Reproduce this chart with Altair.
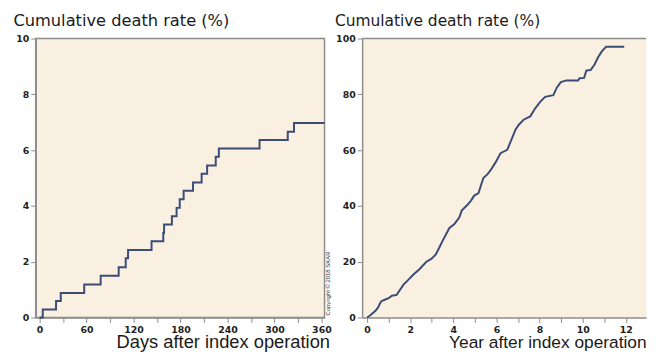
import altair as alt
import pandas as pd

# ---- data ----
days = [0, 4, 21, 27, 57, 78, 101, 110, 113, 143, 158, 159, 169, 175, 179, 184,
        196, 207, 214, 225, 229, 281, 317, 325, 364]
rate_days = [0, 0.29, 0.59, 0.88, 1.18, 1.5, 1.8, 2.12, 2.42, 2.73, 3.03, 3.33,
             3.63, 3.93, 4.24, 4.54, 4.84, 5.15, 5.45, 5.76, 6.06, 6.36, 6.66,
             6.97, 6.97]

years = [0, 0.15, 0.39, 0.51, 0.64, 0.76, 1.0, 1.15, 1.37, 1.5,
         1.68, 1.91, 2.14, 2.44, 2.75, 2.98, 3.18, 3.34, 3.49, 3.67,
         3.82, 4.05, 4.28, 4.39, 4.67, 4.82, 4.97, 5.17, 5.28, 5.4,
         5.58, 5.73, 5.96, 6.19, 6.5, 6.65, 6.89, 7.04, 7.26, 7.57,
         7.8, 8.03, 8.26, 8.64, 8.8, 8.99, 9.25, 9.79, 9.86, 10.07,
         10.17, 10.37, 10.56, 10.71, 10.88, 11.09, 11.93]
rate_years = [0, 0.8, 2.4, 3.6, 5.7, 6.2, 6.9, 7.8, 8.1, 9.6,
              11.7, 13.5, 15.3, 17.4, 20, 21, 22.5, 24.9, 27.3, 29.9,
              32.1, 33.5, 35.9, 38.3, 40.5, 41.9, 43.7, 44.6, 47.3, 50.1,
              51.3, 52.8, 55.6, 58.9, 60.1, 62.9, 67.4, 69.1, 70.9, 72.1,
              75, 77.3, 79.1, 79.7, 82.4, 84.4, 85, 85, 85.8, 85.9,
              88.5, 88.7, 90.8, 93.2, 95.3, 97.1, 97.1]

left_ticks = list(range(0, 361, 30))
right_ticks = list(range(0, 13))
left_yticks = [0, 2, 4, 6, 8, 10]
right_yticks = [0, 20, 40, 60, 80, 100]
y_title = "Cumulative death rate (%)"
left_xtitle = "Days after index operation"
right_xtitle = "Year after index operation"
copyright_text = ["Copyright \u00a9 2018 SKAR"]

left_df = pd.DataFrame({"day": days, "rate": rate_days})
right_df = pd.DataFrame({"year": years, "rate": rate_years})

LINE = "#3b4c77"
BG = "#faf0e1"
GRAY = "#8c8c8c"
FONT = "Liberation Sans"
WIDE = "DejaVu Sans"

LW, RW, H = 292, 287, 282


def common_axis(**kw):
    base = dict(grid=False, domainColor=GRAY, domainWidth=1.5, tickColor=GRAY,
                tickWidth=1, tickSize=5, labelFont=WIDE, labelFontSize=9.5,
                labelFontWeight="bold", labelColor="#1e1e1e", labelOverlap=False,
                labelFlush=False, titleFontWeight="normal", titleColor="#1a1a1a")
    base.update(kw)
    return alt.Axis(**base)


def yaxis(values, tx, size):
    return common_axis(values=values, labelPadding=2, title=y_title, titleAngle=0,
                       titleX=tx, titleY=-13, titleAlign="left",
                       titleBaseline="alphabetic", titleFont=WIDE,
                       titleFontSize=size)


def xaxis(values, label_expr, title, tx, size):
    return common_axis(values=values, labelExpr=label_expr, labelPadding=2,
                       title=title, titleX=tx, titleY=30, titleAlign="right",
                       titleBaseline="alphabetic", titleFont=FONT,
                       titleFontSize=size)


left_line = alt.Chart(left_df).mark_line(
    interpolate="step-after", color=LINE, strokeWidth=2
).encode(
    x=alt.X("day:Q", scale=alt.Scale(domain=[-5, 364], nice=False, zero=False),
            axis=xaxis(left_ticks, "datum.value % 60 == 0 ? datum.label : ''",
                       left_xtitle, 297, 18.5)),
    y=alt.Y("rate:Q", scale=alt.Scale(domain=[0, 10], nice=False),
            axis=yaxis(left_yticks, -23, 16.4)),
)

copyright_mark = alt.Chart(pd.DataFrame({"t": copyright_text})).mark_text(
    angle=270, fontSize=6, font=FONT, align="left", baseline="middle",
    color="#333333"
).encode(text="t:N", x=alt.value(LW + 4), y=alt.value(H - 2))

left = alt.layer(left_line, copyright_mark).properties(
    width=LW, height=H,
    view=alt.ViewBackground(fill=BG, stroke=GRAY, strokeWidth=1.5),
)

right_line = alt.Chart(right_df).mark_line(
    color=LINE, strokeWidth=2
).encode(
    x=alt.X("year:Q", scale=alt.Scale(domain=[-0.23, 12.94], nice=False, zero=False),
            axis=xaxis(right_ticks, "datum.value % 2 == 0 ? datum.label : ''",
                       right_xtitle, 287, 17.5)),
    y=alt.Y("rate:Q", scale=alt.Scale(domain=[0, 100], nice=False),
            axis=yaxis(right_yticks, -28, 15.6)),
)

top_rule = alt.Chart(pd.DataFrame({"k": [0]})).mark_rule(
    color=GRAY, strokeWidth=1.5
).encode(x=alt.value(0), x2=alt.value(RW), y=alt.value(0))

right = alt.layer(right_line, top_rule).properties(
    width=RW, height=H,
    view=alt.ViewBackground(fill=BG, stroke="transparent"),
)

chart = alt.hconcat(left, right, spacing=38, bounds="flush").properties(
    padding={"left": 4, "top": 2, "right": 0, "bottom": -2},
    background="white",
)

chart.save("out.html", embed_options={"renderer": "svg", "actions": False})
